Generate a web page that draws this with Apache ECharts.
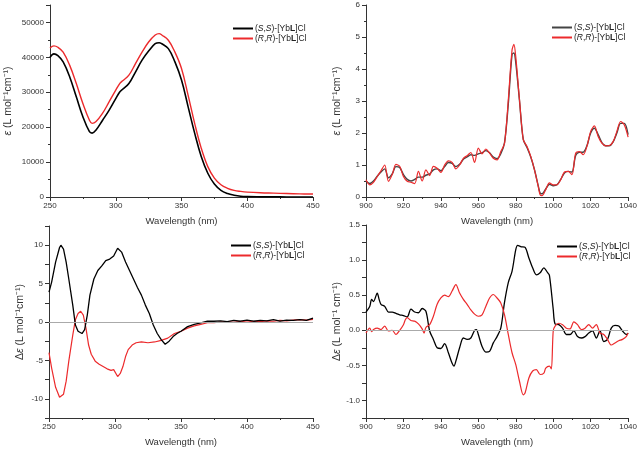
<!DOCTYPE html>
<html lang="en">
<head>
    <meta charset="UTF-8">
    <title>YbL spectra</title>
    <style>
        html, body { margin: 0; padding: 0; background: #fff; }
        #main { width: 640px; height: 449px; }
    </style>
</head>
<body>
<div id="main"></div>
<script src="https://cdn.jsdelivr.net/npm/echarts@6/dist/echarts.min.js"></script>
<script>
    // UV-vis absorption (top left)
    var absX = [250,253,256,260,265,270,275,280,282,285,290,295,300,303,305,310,315,320,325,330,333,335,340,345,350,355,360,365,370,375,380,385,390,395,400,410,420,430,440,450];
    var absSS = [40000,41000,40500,38700,34400,28700,23000,18700,18300,19200,22000,24900,28200,30100,30800,32500,35800,39200,41800,43900,44200,43900,42500,38700,33500,25900,18300,11600,6800,3700,1900,1000,500,200,100,50,30,20,10,10];
    var absRR = [42700,43300,42900,41500,37700,32500,26800,22000,21100,21600,24000,27300,30600,32500,33200,34900,38200,41500,44400,46400,46800,46400,44900,41500,36800,29200,21100,14000,8700,5400,3500,2500,1900,1600,1400,1200,1100,1000,900,850];

    // NIR absorption (top right)
    var nirX = [900,902,904,906,908,910,912,914,916,918,920,922,924,926,928,930,932,934,936,938,940,942,944,946,948,950,952,954,956,958,960,962,964,966,968,970,972,974,976,978,979,980,982,984,986,988,990,992,993,994,996,998,1000,1002,1004,1006,1008,1010,1012,1014,1016,1018,1020,1022,1024,1026,1028,1030,1032,1034,1036,1038,1040];
    var nirSS = [0.5,0.42,0.5,0.65,0.78,0.88,0.6,0.72,0.95,0.92,0.7,0.55,0.5,0.55,0.62,0.62,0.68,0.72,0.85,0.88,0.82,0.95,1.08,1.05,0.95,1.02,1.18,1.25,1.32,1.3,1.35,1.38,1.45,1.38,1.25,1.2,1.35,1.7,2.9,4.45,4.5,4.2,3.0,1.8,1.55,1.25,0.85,0.35,0.12,0.1,0.25,0.4,0.35,0.38,0.55,0.75,0.8,0.78,1.3,1.4,1.4,1.6,2.0,2.15,1.95,1.7,1.6,1.6,1.72,2.0,2.3,2.3,1.95];
    var nirRR = [0.54,0.38,0.46,0.64,0.82,1.0,0.49,0.7,1.02,0.96,0.64,0.49,0.46,0.42,0.8,0.5,0.85,0.67,0.96,0.9,0.77,1.0,1.13,1.08,0.88,1.0,1.21,1.29,1.39,1.08,1.53,1.35,1.5,1.37,1.21,1.16,1.42,1.68,3.03,4.59,4.77,4.38,3.03,1.79,1.58,1.27,0.85,0.33,0.07,0.04,0.23,0.44,0.38,0.38,0.54,0.78,0.8,0.7,1.37,1.42,1.32,1.58,2.05,2.22,1.89,1.68,1.6,1.61,1.73,2.05,2.36,2.25,1.87];

    // CD, UV region (bottom left)
    var cdSSx = [250,252,255,258,259,261,263,265,268,270,272,275,277,279,281,284,287,290,293,296,299,302,305,308,311,314,317,320,323,326,329,332,335,338,341,344,347,350,355,360,365,370,375,380,385,390,395,400,405,410,415,420,425,430,435,440,445,450];
    var cdSSy = [3.9,5.2,7.8,9.7,10,9.5,7.8,5.6,2.2,-0.4,-1.2,-1.5,-1,0.9,3.5,5.6,6.7,7.3,8,8.2,8.6,9.6,9.1,7.8,6.7,5.6,4.5,3.5,2.2,1.1,-0.4,-1.5,-2.3,-2.9,-2.5,-1.9,-1.5,-1.2,-0.6,-0.3,-0.1,0.1,0.1,0.15,0.05,0.2,0.1,0.25,0.1,0.2,0.15,0.3,0.1,0.25,0.2,0.3,0.2,0.5];
    var cdRRx = [250,252,255,258,259,261,263,265,268,270,272,274,276,278,280,282,285,288,291,294,297,299,302,304,306,308,310,313,316,320,325,330,335,340,345,350,355,360,365,370,375,380,385,390,395,400,405,410,415,420,425,430,435,440,445,450];
    var cdRRy = [-4,-6,-8.5,-9.8,-10,-9.4,-7.7,-5.1,-1.7,0.3,1.1,1.4,0.9,-0.8,-3,-4.2,-5.1,-5.5,-5.8,-6.1,-6.3,-6.2,-7.1,-6.7,-5.8,-4.5,-3.6,-3,-2.7,-2.6,-2.7,-2.6,-2.4,-2.1,-1.5,-1.2,-0.8,-0.5,-0.3,-0.1,-0.1,0,0.05,-0.05,0.1,0,0.1,0.05,0.15,0.1,0.2,0.15,0.25,0.3,0.25,0.35];

    // CD, NIR region (bottom right)
    var cdNirSSx = [900,902,903,904,906,907,908,910,912,914,916,918,920,922,924,926,928,930,932,934,936,938,940,942,944,946,947,948,950,952,954,956,958,959,960,962,964,966,968,970,972,974,976,978,980,981,983,985,987,989,991,993,995,997,998,1000,1001,1003,1005,1007,1009,1011,1013,1015,1017,1019,1021,1023,1025,1027,1029,1031,1033,1035,1037,1039,1040];
    var cdNirSSy = [0.26,0.34,0.44,0.41,0.53,0.44,0.37,0.34,0.26,0.26,0.24,0.22,0.21,0.19,0.3,0.26,0.25,0.31,0.27,-0.01,-0.13,-0.25,-0.26,-0.19,-0.32,-0.47,-0.51,-0.44,-0.25,-0.11,-0.13,-0.11,0,0.01,-0.06,-0.23,-0.31,-0.3,-0.18,-0.09,0.03,0.4,0.68,0.84,1.15,1.21,1.19,1.18,1.03,0.89,0.79,0.82,0.89,0.82,0.78,0.3,0.09,0.08,0.03,-0.06,-0.06,-0.01,-0.09,-0.11,-0.09,-0.04,-0.01,-0.11,-0.01,-0.16,-0.13,0.03,0.07,0.06,-0.01,-0.06,-0.04];
    var cdNirRRx = [900,902,903,904,906,908,910,912,914,916,918,920,921,922,924,926,928,930,931,932,934,936,938,940,942,944,946,948,950,952,954,956,958,960,962,964,966,968,970,972,974,976,978,980,982,984,985,987,989,991,993,995,996,998,999,1000,1001,1003,1005,1007,1009,1011,1013,1015,1017,1019,1021,1023,1025,1027,1029,1031,1033,1035,1037,1039,1040];
    var cdNirRRy = [-0.04,0.03,-0.02,0.01,0.03,0.01,0.06,-0.01,0,-0.06,0,0.08,0.15,0.18,0.14,0.13,0.09,0.02,-0.04,0.04,0.08,0.2,0.37,0.46,0.5,0.48,0.56,0.65,0.53,0.44,0.37,0.29,0.23,0.2,0.22,0.34,0.46,0.51,0.46,0.39,0.22,-0.06,-0.32,-0.49,-0.73,-0.92,-0.89,-0.68,-0.58,-0.56,-0.63,-0.61,-0.54,-0.51,-0.55,-0.01,0.06,0.1,0.08,0.03,0.02,0.12,0.08,0.01,0.03,0.08,0.03,0.08,-0.04,-0.06,-0.13,-0.21,-0.18,-0.15,-0.13,-0.09,-0.04];

    var RED = '#ec2a2c';
    var FONT = 'Arial, "Liberation Sans", sans-serif';

    function pairs(xs, ys) {
        return xs.map(function (x, i) { return [x, ys[i]]; });
    }

    var fmtPlain = function (v) { return String(v); };
    var fmtTenK = function (v) { return v % 10000 === 0 ? String(v) : ''; };
    var fmtFive = function (v) { return Math.abs(v % 5) < 1e-9 ? String(v) : ''; };
    var fmtHalf = function (v) {
        var r = Math.round(v * 100);
        return r % 50 === 0 ? v.toFixed(1) : '';
    };

    function xAxisFor(grid, min, max, interval) {
        return {
            type: 'value', gridIndex: grid, min: min, max: max, interval: interval,
            name: 'Wavelength (nm)', nameLocation: 'middle', nameGap: 19,
            nameTextStyle: { fontSize: 9.5, color: '#333', fontFamily: FONT },
            axisLine: { onZero: false, lineStyle: { color: '#333', width: 1 } },
            axisTick: { length: 4, lineStyle: { color: '#333' } },
            minorTick: { show: true, splitNumber: 2, length: 2, lineStyle: { color: '#333' } },
            axisLabel: { fontSize: 8, color: '#333', margin: 5, fontFamily: FONT, formatter: fmtPlain },
            splitLine: { show: false }
        };
    }

    function yAxisFor(grid, min, max, interval, name, gap, fmt, minor) {
        return {
            type: 'value', gridIndex: grid, min: min, max: max, interval: interval,
            name: name, nameLocation: 'middle', nameGap: gap,
            nameTextStyle: {
                fontSize: 10.5, color: '#333', fontFamily: FONT,
                rich: { i: { fontStyle: 'italic', fontSize: 10.5, color: '#333', fontFamily: FONT } }
            },
            axisLine: { show: true, onZero: false, lineStyle: { color: '#333', width: 1 } },
            axisTick: { show: true, length: 4, lineStyle: { color: '#333' } },
            minorTick: { show: minor, splitNumber: 2, length: 2, lineStyle: { color: '#333' } },
            axisLabel: { fontSize: 8, color: '#333', margin: 6, fontFamily: FONT, formatter: fmt },
            splitLine: { show: false }
        };
    }

    function legendFor(names, left, top) {
        return {
            data: names, orient: 'vertical', left: left, top: top,
            icon: 'rect', itemWidth: 20, itemHeight: 2, itemGap: 1,
            selectedMode: false,
            formatter: function (n) {
                return n.indexOf('SS') === 0
                    ? '({i|S},{i|S})-[Yb{b|L}]Cl'
                    : '({i|R},{i|R})-[Yb{b|L}]Cl';
            },
            textStyle: {
                fontSize: 8.5, color: '#222', fontFamily: FONT, padding: [0, 0, 0, -3],
                rich: {
                    i: { fontStyle: 'italic', fontSize: 8.5, color: '#222', fontFamily: FONT },
                    b: { fontWeight: 'bold', fontSize: 8.5, color: '#222', fontFamily: FONT }
                }
            }
        };
    }

    function lineSeries(name, idx, data, color, width, smooth) {
        return {
            name: name, type: 'line', xAxisIndex: idx, yAxisIndex: idx,
            data: data, showSymbol: false, smooth: smooth, animation: false,
            lineStyle: { color: color, width: width }, itemStyle: { color: color }
        };
    }

    var zeroLine = {
        silent: true, symbol: 'none', label: { show: false },
        lineStyle: { color: '#aaa', width: 1, type: 'solid' },
        data: [{ yAxis: 0 }]
    };

    var chart = echarts.init(document.getElementById('main'), null, { renderer: 'canvas' });

    var cd1 = lineSeries('SS3', 2, pairs(cdSSx, cdSSy), '#000', 1.3, false);
    var cd2 = lineSeries('RR3', 2, pairs(cdRRx, cdRRy), RED, 1.2, false);
    cd2.markLine = zeroLine;
    cd1.z = 3; cd2.z = 2;
    var cn1 = lineSeries('SS4', 3, pairs(cdNirSSx, cdNirSSy), '#000', 1.3, 0.3);
    var cn2 = lineSeries('RR4', 3, pairs(cdNirRRx, cdNirRRy), RED, 1.2, 0.3);
    cn2.markLine = zeroLine;

    var option = {
        backgroundColor: '#fff',
        animation: false,
        grid: [
            { left: 50, top: 5, width: 263, height: 192 },
            { left: 366, top: 5, width: 265, height: 192 },
            { left: 49, top: 226, width: 264, height: 192 },
            { left: 366, top: 225, width: 265, height: 193 }
        ],
        xAxis: [
            xAxisFor(0, 250, 450, 50),
            xAxisFor(1, 900, 1040, 20),
            xAxisFor(2, 250, 450, 50),
            xAxisFor(3, 900, 1040, 20)
        ],
        yAxis: [
            yAxisFor(0, 0, 55000, 10000, '{i|ε} (L mol⁻¹cm⁻¹)', 36, fmtTenK, true),
            yAxisFor(1, 0, 6, 1, '{i|ε} (L mol⁻¹cm⁻¹)', 23, fmtPlain, true),
            yAxisFor(2, -12.5, 12.5, 2.5, 'Δ{i|ε} (L mol⁻¹cm⁻¹)', 23, fmtFive, false),
            yAxisFor(3, -1.25, 1.5, 0.25, 'Δ{i|ε} (L mol⁻¹ cm⁻¹)', 22, fmtHalf, false)
        ],
        legend: [
            legendFor(['SS1', 'RR1'], 228, 19),
            legendFor(['SS2', 'RR2'], 547, 18),
            legendFor(['SS3', 'RR3'], 226, 236),
            legendFor(['SS4', 'RR4'], 552, 237)
        ],
        series: [
            lineSeries('SS1', 0, pairs(absX, absSS), '#000', 1.6, 0.4),
            lineSeries('RR1', 0, pairs(absX, absRR), RED, 1.4, 0.4),
            lineSeries('SS2', 1, pairs(nirX, nirSS), '#444', 1.4, 0.3),
            lineSeries('RR2', 1, pairs(nirX, nirRR), RED, 1.2, 0.3),
            cd1, cd2, cn1, cn2
        ]
    };

    chart.setOption(option);
</script>
</body>
</html>
